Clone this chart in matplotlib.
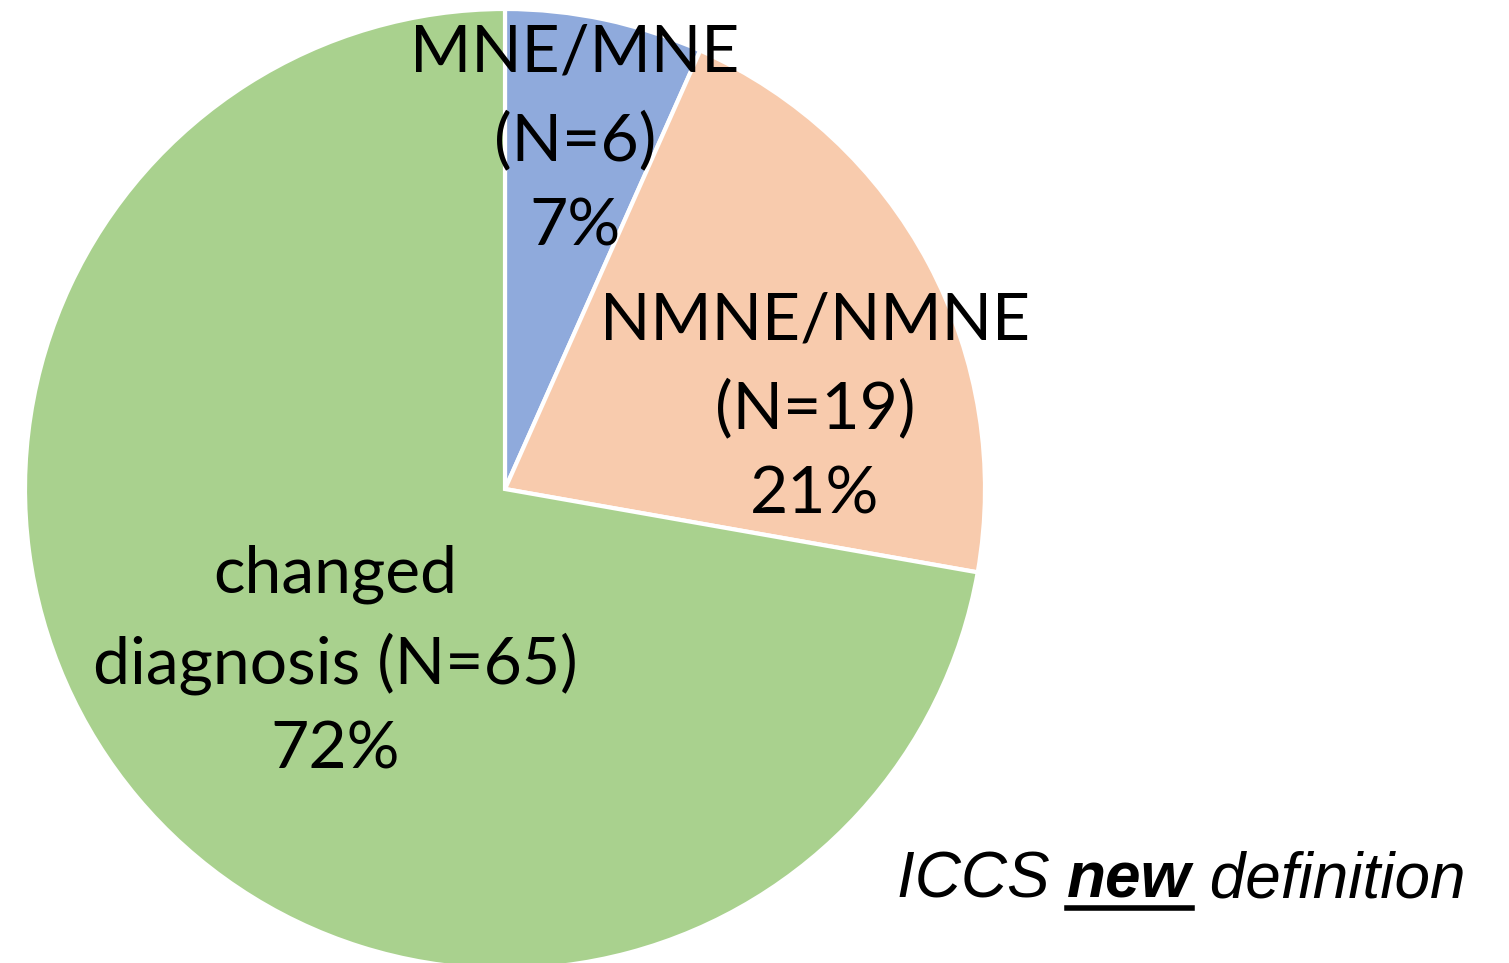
import matplotlib
matplotlib.use("Agg")
import matplotlib.pyplot as plt

categories = ["MNE/MNE\n(N=6)", "NMNE/NMNE\n(N=19)", "changed\ndiagnosis (N=65)"]
counts = [6, 19, 65]
percents = ["7%", "21%", "72%"]
colors = ["#8FAADC", "#F8CBAD", "#A9D18E"]

W, H = 1509, 963
fig = plt.figure(figsize=(W / 100, H / 100), dpi=100)
cx, cy, r = 505, 489, 480
ax = fig.add_axes([(cx - r) / W, (H - cy - r) / H, 2 * r / W, 2 * r / H])
wedges, texts = ax.pie(counts, colors=colors, startangle=90, counterclock=False,
                       radius=1, wedgeprops=dict(edgecolor="white", linewidth=3))
ax.set_xlim(-1, 1)
ax.set_ylim(-1, 1)
ax.set_aspect("equal")
ax.axis("off")

label_pos = [(575, 140), (815, 408), (335, 662)]
for cat, pct, (px, py) in zip(categories, percents, label_pos):
    ax.text((px - cx) / r, (cy - py) / r, cat + "\n" + pct, ha="center", va="center",
            fontsize=47.5, family="Lato", linespacing=1.55, color="black")

# caption
fs = 46
base = 1 - 898 / H
t1 = fig.text(897 / W, base, "ICCS ", fontsize=fs, family="Liberation Sans",
              style="italic", ha="left", va="baseline")
fig.canvas.draw()
rend = fig.canvas.get_renderer()
bb1 = t1.get_window_extent(rend)
t2 = fig.text(bb1.x1 / W, base, "new", fontsize=fs, family="Liberation Sans",
              style="italic", weight="bold", ha="left", va="baseline")
bb2 = t2.get_window_extent(rend)
t3 = fig.text(bb2.x1 / W, base, " definition", fontsize=fs, family="Liberation Sans",
              style="italic", ha="left", va="baseline")
fig.add_artist(plt.Line2D([bb2.x0 / W, bb2.x1 / W], [1 - 908 / H, 1 - 908 / H],
                          color="black", linewidth=4, transform=fig.transFigure))

fig.savefig("out.png", dpi=100)
